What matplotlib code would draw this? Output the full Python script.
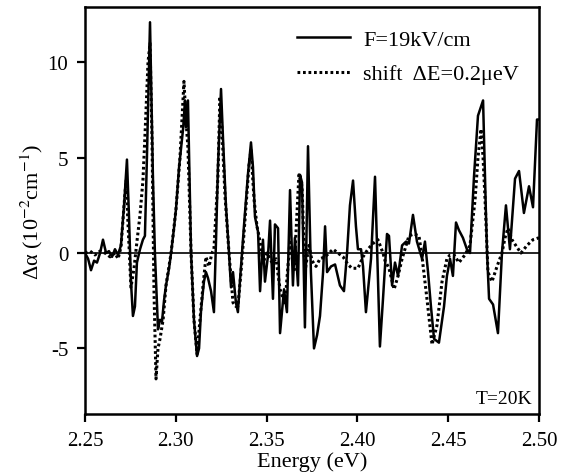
import matplotlib
matplotlib.use("Agg")
import matplotlib.pyplot as plt

plt.rcParams['font.family'] = ['Liberation Serif', 'DejaVu Serif']
plt.rcParams['mathtext.fontset'] = 'stix'

# Solid curve: F = 19 kV/cm
energy_field = [2.2500, 2.2517, 2.2533, 2.2550, 2.2566, 2.2583, 2.2599, 2.2616, 2.2632, 2.2649,
                2.2665, 2.2682, 2.2698, 2.2715, 2.2731, 2.2742, 2.2753, 2.2764, 2.2775, 2.2786,
                2.2803, 2.2819, 2.2830, 2.2841, 2.2858, 2.2874, 2.2885, 2.2902, 2.2913, 2.2924,
                2.2935, 2.2946, 2.2963, 2.2974, 2.2990, 2.3001, 2.3018, 2.3040, 2.3051, 2.3056,
                2.3067, 2.3084, 2.3100, 2.3117, 2.3128, 2.3139, 2.3155, 2.3166, 2.3177, 2.3194,
                2.3210, 2.3221, 2.3232, 2.3249, 2.3260, 2.3276, 2.3293, 2.3304, 2.3315, 2.3331,
                2.3342, 2.3353, 2.3376, 2.3398, 2.3414, 2.3425, 2.3436, 2.3453, 2.3464, 2.3480,
                2.3491, 2.3508, 2.3519, 2.3535, 2.3546, 2.3563, 2.3574, 2.3596, 2.3612, 2.3629,
                2.3645, 2.3656, 2.3673, 2.3684, 2.3695, 2.3711, 2.3728, 2.3744, 2.3761, 2.3778,
                2.3794, 2.3811, 2.3822, 2.3833, 2.3855, 2.3877, 2.3904, 2.3926, 2.3943, 2.3959,
                2.3976, 2.3992, 2.4003, 2.4020, 2.4031, 2.4047, 2.4075, 2.4097, 2.4108, 2.4124,
                2.4141, 2.4163, 2.4174, 2.4191, 2.4207, 2.4224, 2.4246, 2.4268, 2.4284, 2.4306,
                2.4328, 2.4356, 2.4372, 2.4389, 2.4405, 2.4422, 2.4449, 2.4477, 2.4493, 2.4510,
                2.4526, 2.4543, 2.4559, 2.4581, 2.4603, 2.4620, 2.4642, 2.4664, 2.4692, 2.4708,
                2.4714, 2.4725, 2.4747, 2.4774, 2.4796, 2.4818, 2.4840, 2.4868, 2.4890, 2.4917,
                2.4945, 2.4967, 2.4989, 2.5000]
dalpha_field = [0.0, -0.3, -0.9, -0.4, -0.5, 0.0, 0.7, 0.0, 0.1, -0.2,
                0.2, -0.1, 0.4, 2.5, 4.9, 2.0, -1.5, -3.3, -2.8, -0.5,
                0.2, 0.7, 0.9, 5.0, 12.1, 4.0, 0.0, -4.0, -3.5, -3.6,
                -2.5, -1.7, -0.8, 0.0, 1.3, 2.3, 4.5, 6.5, 8.0, 6.6,
                8.0, 0.0, -3.5, -5.4, -5.0, -3.0, -1.5, -1.0, -1.3, -2.0,
                -3.1, 0.5, 4.5, 8.6, 6.0, 2.5, 0.0, -1.8, -1.0, -2.6,
                -3.1, -1.5, 1.5, 4.2, 5.8, 4.5, 1.9, 1.1, -2.0, 0.7,
                -1.5, -0.1, 1.7, -2.4, 1.5, 1.3, -4.2, -1.9, -3.1, 3.3,
                -1.7, 0.8, -1.7, 4.1, 3.7, -3.9, 5.6, -1.0, -5.0, -4.3,
                -3.3, -1.0, 1.4, -1.0, -0.7, -0.6, -1.7, -2.0, 0.0, 2.5,
                3.8, 1.4, 0.2, 0.2, -0.7, -3.1, -0.3, 4.0, 0.4, -4.9,
                -2.4, 1.0, 0.9, -1.7, -0.5, -1.2, 0.4, 0.6, 0.5, 2.0,
                0.6, -0.3, 0.6, -1.0, -2.8, -4.5, -4.7, -2.8, -1.2, -0.3,
                -1.2, 1.6, 1.2, 0.8, 0.2, 0.0, 4.0, 7.2, 8.0, 2.0,
                0.0, -2.4, -2.7, -4.2, 0.0, 2.5, 0.2, 3.9, 4.3, 2.1,
                3.5, 2.4, 7.0, 7.0]

# Dotted curve: shift dE = 0.2 ueV
energy_shift = [2.2500, 2.2528, 2.2555, 2.2583, 2.2610, 2.2638, 2.2665, 2.2682, 2.2698, 2.2715,
                2.2726, 2.2737, 2.2753, 2.2770, 2.2786, 2.2803, 2.2819, 2.2830, 2.2847, 2.2858,
                2.2869, 2.2880, 2.2891, 2.2902, 2.2913, 2.2930, 2.2946, 2.2974, 2.3001, 2.3023,
                2.3045, 2.3056, 2.3067, 2.3084, 2.3100, 2.3117, 2.3133, 2.3150, 2.3166, 2.3183,
                2.3199, 2.3210, 2.3232, 2.3243, 2.3254, 2.3271, 2.3293, 2.3315, 2.3331, 2.3342,
                2.3359, 2.3376, 2.3403, 2.3414, 2.3431, 2.3447, 2.3464, 2.3480, 2.3502, 2.3530,
                2.3552, 2.3574, 2.3601, 2.3629, 2.3651, 2.3678, 2.3695, 2.3711, 2.3733, 2.3750,
                2.3772, 2.3794, 2.3822, 2.3866, 2.3893, 2.3921, 2.3948, 2.3970, 2.4003, 2.4031,
                2.4058, 2.4086, 2.4113, 2.4141, 2.4152, 2.4174, 2.4202, 2.4224, 2.4246, 2.4268,
                2.4284, 2.4312, 2.4339, 2.4356, 2.4383, 2.4411, 2.4438, 2.4466, 2.4493, 2.4510,
                2.4532, 2.4559, 2.4592, 2.4620, 2.4648, 2.4664, 2.4681, 2.4692, 2.4703, 2.4719,
                2.4741, 2.4769, 2.4796, 2.4813, 2.4829, 2.4851, 2.4879, 2.4901, 2.4934, 2.4967,
                2.5000]
dalpha_shift = [0.0, 0.1, -0.1, 0.1, 0.0, -0.2, 0.0, -0.3, 0.3, 2.5,
                3.8, 1.5, -1.8, -0.8, 0.6, 2.0, 3.8, 6.1, 10.0, 11.0,
                6.0, -2.0, -6.6, -5.0, -4.5, -3.5, -1.7, 0.0, 2.3, 5.0,
                9.0, 7.0, 5.5, 0.0, -3.5, -5.3, -3.5, -1.7, -0.2, -0.7,
                0.0, 0.2, 4.0, 8.2, 6.5, 3.0, 0.0, -2.6, -2.8, -2.8,
                -1.0, 1.1, 4.6, 5.4, 2.8, 1.4, 0.6, -0.5, 0.0, -0.5,
                -0.3, -1.9, -2.7, 0.7, -1.0, 4.1, 3.5, -1.0, 0.4, -0.4,
                -0.7, -0.3, -0.2, 0.2, 0.0, -0.2, -0.6, -0.8, -0.8, -0.2,
                0.2, 0.5, 0.7, 0.0, -0.4, -0.8, -1.9, -1.2, -0.3, 0.4,
                0.9, 1.0, 0.9, -0.2, -2.4, -4.8, -3.8, -1.5, -0.3, -0.1,
                -0.1, -0.5, -0.1, 0.4, 2.8, 5.0, 6.5, 5.0, 2.8, -1.0,
                -1.5, -0.7, 0.0, 0.8, 1.3, 0.7, 0.3, 0.0, 0.4, 0.7,
                0.8]

x_ticks = [2.25, 2.30, 2.35, 2.40, 2.45, 2.50]
x_tick_labels = ["2.25", "2.30", "2.35", "2.40", "2.45", "2.50"]
y_ticks = [-5, 0, 5, 10]
y_tick_labels = ["-5", "0", "5", "10"]

fig = plt.figure(figsize=(5.76, 4.77), dpi=100)
ax = fig.add_axes([85/576, 1 - 415/477, (539 - 85)/576, (415 - 8)/477])

ax.axhline(0, color='black', lw=1.2, zorder=1)
ax.plot(energy_field, dalpha_field, color='black', lw=1.8, ls='-', label='F=19kV/cm', zorder=3)
ax.plot(energy_shift, dalpha_shift, color='black', lw=2.2, ls=(0, (0.9, 0.9)),
        label='shift  ΔE=0.2μeV', zorder=2)

ax.set_xlim(2.25, 2.50)
ax.set_ylim(-8.44, 12.9)
ax.set_xticks(x_ticks)
ax.set_xticklabels(x_tick_labels)
ax.set_yticks(y_ticks)
ax.set_yticklabels(y_tick_labels)
ax.tick_params(direction='out', length=6, width=1.6, labelsize=15, pad=6)
for s in ax.spines.values():
    s.set_linewidth(1.8)

ax.set_xlabel('Energy (eV)', fontsize=16, labelpad=1)
ax.set_ylabel('Δα (10$^{-2}$cm$^{-1}$)', fontsize=16)
ax.yaxis.set_label_coords((45 - 85) / 454, 0.5)

leg = ax.legend(loc='upper left', bbox_to_anchor=((297 - 85) / 454, (415 - 30) / 407),
                frameon=False, fontsize=16, handlelength=2.39, handletextpad=0.59,
                labelspacing=0.64, borderpad=0, borderaxespad=0)

ax.text(0.985, 0.018, 'T=20K', transform=ax.transAxes, ha='right', va='bottom', fontsize=14)

fig.savefig('out.png', dpi=100)
